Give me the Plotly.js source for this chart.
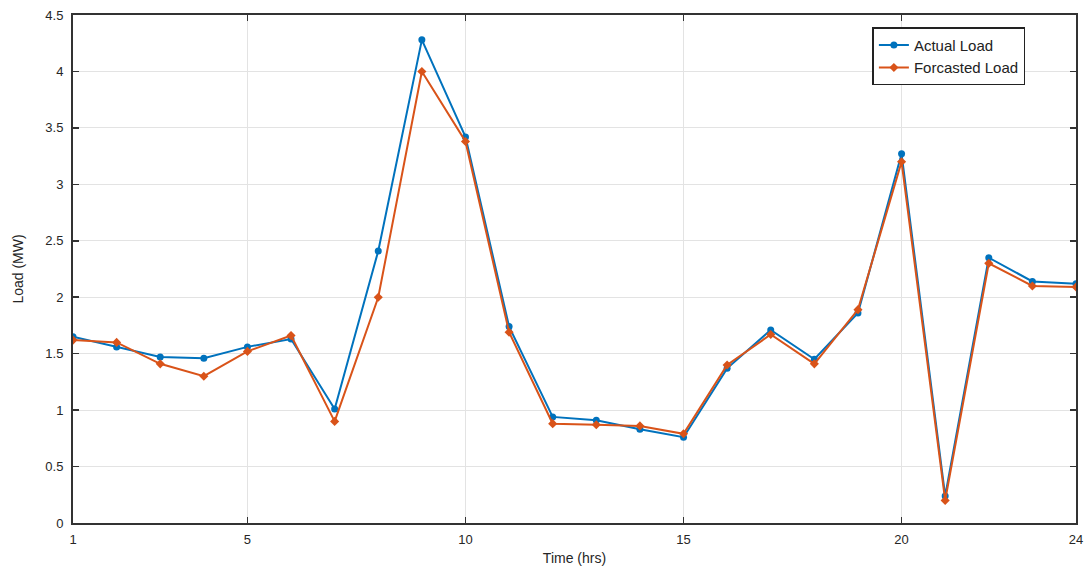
<!DOCTYPE html>
<html>
<head>
<meta charset="utf-8">
<script src="https://cdn.plot.ly/plotly-3.0.1.min.js"></script>
<style>html,body{margin:0;padding:0;background:#fff;}#chart{width:1084px;height:575px;}</style>
</head>
<body>
<div id="chart"></div>
<script>
const hours = [1,2,3,4,5,6,7,8,9,10,11,12,13,14,15,16,17,18,19,20,21,22,23,24];
const actualLoad = [1.65,1.56,1.47,1.46,1.56,1.63,1.01,2.41,4.28,3.42,1.74,0.94,0.91,0.83,0.76,1.37,1.71,1.45,1.86,3.27,0.24,2.35,2.14,2.12];
const forecastLoad = [1.62,1.60,1.41,1.30,1.52,1.66,0.90,2.00,4.00,3.38,1.69,0.88,0.87,0.86,0.79,1.40,1.67,1.41,1.89,3.20,0.20,2.30,2.10,2.09];
const xTicks = [1,5,10,15,20,24];
const yTicks = [0,0.5,1,1.5,2,2.5,3,3.5,4,4.5];

const traces = [
  {x: hours, y: actualLoad, name: 'Actual Load', type: 'scatter', mode: 'lines+markers',
   line: {color: '#0072BD', width: 2}, marker: {color: '#0072BD', size: 7, symbol: 'circle'}},
  {x: hours, y: forecastLoad, name: 'Forcasted Load', type: 'scatter', mode: 'lines+markers',
   line: {color: '#D95319', width: 2}, marker: {color: '#D95319', size: 7, symbol: 'diamond'}}
];

const layout = {
  width: 1084, height: 575,
  margin: {l: 73, r: 8, t: 15, b: 52},
  paper_bgcolor: '#fff', plot_bgcolor: '#fff',
  font: {family: 'Liberation Sans, Arial, sans-serif', size: 13, color: '#262626'},
  showlegend: true,
  legend: {x: 0.797, y: 0.976, xanchor: 'left', yanchor: 'top', bgcolor: '#fff',
    bordercolor: '#222', borderwidth: 1.5, font: {size: 15, color: '#222'},
    tracegroupgap: 0, itemwidth: 30},
  xaxis: {range: [1, 24], tickvals: xTicks, ticktext: xTicks.map(String),
    showgrid: true, gridcolor: '#e3e3e3', gridwidth: 1, zeroline: false,
    showline: true, linecolor: '#333', linewidth: 2, mirror: 'ticks',
    ticks: 'inside', ticklen: 6, tickcolor: '#333', tickwidth: 1.5,
    ticklabelstandoff: 3,
    tickfont: {size: 13, color: '#262626'},
    title: {text: 'Time (hrs)', font: {size: 14, color: '#262626'}, standoff: 8}},
  yaxis: {range: [0, 4.5], tickvals: yTicks, ticktext: yTicks.map(String),
    showgrid: true, gridcolor: '#e3e3e3', gridwidth: 1, zeroline: false,
    showline: true, linecolor: '#333', linewidth: 2, mirror: 'ticks',
    ticks: 'inside', ticklen: 6, tickcolor: '#333', tickwidth: 1.5,
    ticklabelstandoff: 5,
    tickfont: {size: 13, color: '#262626'},
    title: {text: 'Load (MW)', font: {size: 14, color: '#262626'}, standoff: 18}}
};

Plotly.newPlot('chart', traces, layout, {staticPlot: true, displayModeBar: false});
</script>
</body>
</html>
